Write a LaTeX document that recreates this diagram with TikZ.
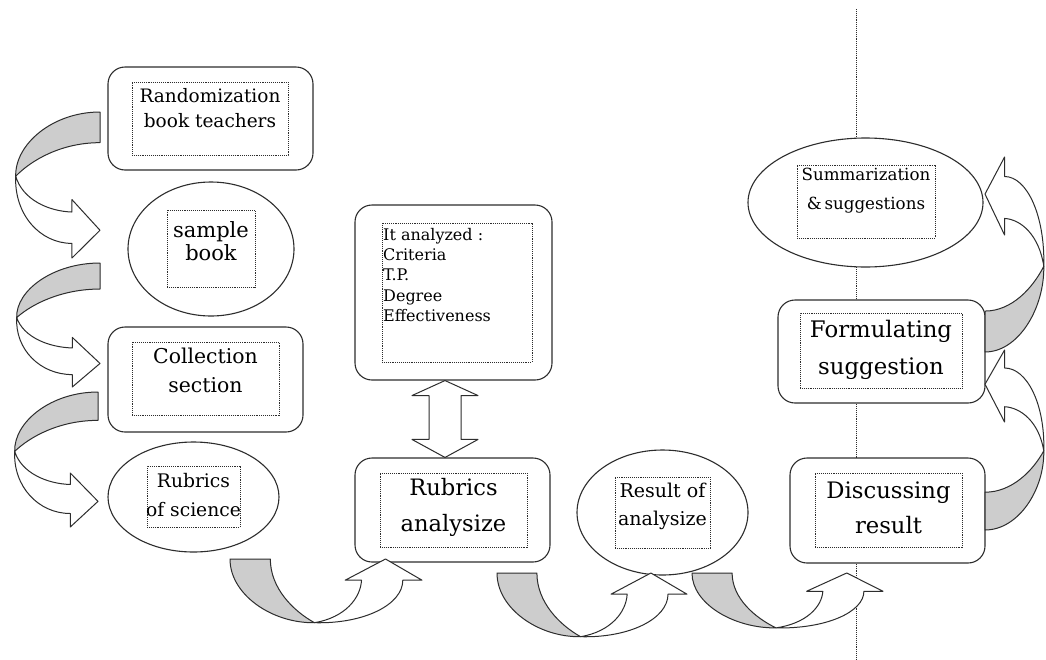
\documentclass[tikz,border=0pt]{standalone}
\usepackage{fontspec}
\setmainfont{DejaVu Serif}
\usetikzlibrary{calc,shapes.geometric}
\definecolor{lc}{RGB}{45,45,45}
\definecolor{bandgray}{RGB}{205,205,205}
\newcommand{\curvarr}[3]{%
 \begin{scope}[shift={#1}, x={#2}, y={#3}]
  \draw[arrback] (0,0) .. controls (0.55,0) and (0.99,0.22) .. (0.98,0.44)
     .. controls (0.8,0.33) and (0.45,0.21) .. (0,0.21) -- cycle;
  \draw[arrfront] (0.98,0.44) .. controls (1,0.7) and (0.7,0.9) .. (0.326,0.9)
     -- (0.326,1) -- (0,0.81) -- (0.326,0.6) -- (0.326,0.685)
     .. controls (0.6,0.68) and (0.9,0.6) .. (0.98,0.44) -- cycle;
 \end{scope}}
\begin{document}
\begin{tikzpicture}[x=1pt,y=-1pt,
  rbox/.style={draw=lc, line width=1.1pt, fill=white, rounded corners=17pt, inner sep=0pt},
  ebox/.style={draw=lc, line width=1.1pt, fill=white, ellipse, inner sep=0pt},
  dbox/.style={draw=lc, densely dotted, line width=0.9pt, inner sep=0pt},
  txt/.style={inner sep=0pt, align=center, text=black},
  arrback/.style={draw=lc, line width=1pt, fill=bandgray, line join=round},
  arrfront/.style={draw=lc, line width=1pt, fill=white, line join=round},
  vline/.style={draw=lc, densely dotted, line width=0.9pt}]
\useasboundingbox (0,0) rectangle (1046,659);
\fill[white] (0,0) rectangle (1046,659);
\coordinate (vtop) at (856,9);
\coordinate (vbot) at (856,659);
\draw[vline] (vtop) -- (vbot);

% Randomization
\node[rbox, minimum width=205pt, minimum height=103pt] (n1) at (210.5,118.5) {};
\node[dbox, minimum width=156pt, minimum height=73pt] (d1) at (210,118.5) {};
\node[txt, font=\fontsize{18.5}{25}\selectfont] (t1) at (210,108) {Randomization\\book teachers};

% sample book
\node[ebox, minimum width=166pt, minimum height=134pt] (n2) at (211,249) {};
\node[dbox, minimum width=88pt, minimum height=77pt] (d2) at (211,248.5) {};
\node[txt, font=\fontsize{21}{23.5}\selectfont] (t2) at (211,241) {sample\\book};

% Collection section
\node[rbox, minimum width=195pt, minimum height=105pt] (n3) at (205.5,379.5) {};
\node[dbox, minimum width=147pt, minimum height=73pt] (d3) at (205.5,378.5) {};
\node[txt, font=\fontsize{20.4}{29}\selectfont] (t3) at (205.5,370) {Collection\\section};

% Rubrics of science
\node[ebox, minimum width=171pt, minimum height=110pt] (n4) at (193.5,497) {};
\node[dbox, minimum width=93pt, minimum height=61pt] (d4) at (193.5,496.5) {};
\node[txt, font=\fontsize{18.7}{29}\selectfont] (t4) at (193.5,495) {Rubrics\\of science};

% It analyzed
\node[rbox, minimum width=197pt, minimum height=175pt] (n5) at (453.5,292.5) {};
\node[dbox, minimum width=150pt, minimum height=139pt] (d5) at (457,292.5) {};
\node[txt, align=left, anchor=north west, font=\fontsize{16}{20.3}\selectfont] (t5) at (383,228) {It analyzed :\\Criteria\\T.P.\\Degree\\Effectiveness};

% Rubrics analysize
\node[rbox, minimum width=195pt, minimum height=104pt] (n6) at (452.5,510) {};
\node[dbox, minimum width=147pt, minimum height=74pt] (d6) at (453.5,510) {};
\node[txt, font=\fontsize{22.6}{36}\selectfont] (t6) at (453.5,507) {Rubrics\\analysize};

% Result of analysize
\node[ebox, minimum width=171pt, minimum height=125pt] (n7) at (662.5,512.5) {};
\node[dbox, minimum width=95pt, minimum height=71pt] (d7) at (662.5,512.5) {};
\node[txt, font=\fontsize{19}{28}\selectfont] (t7) at (662.5,506) {Result of\\analysize};

% Discussing result
\node[rbox, minimum width=195pt, minimum height=105pt] (n8) at (887.5,510.5) {};
\node[dbox, minimum width=147pt, minimum height=74pt] (d8) at (888.5,510) {};
\node[txt, font=\fontsize{22.7}{35}\selectfont] (t8) at (888.5,507.5) {Discussing\\result};

% Formulating suggestion
\node[rbox, minimum width=207pt, minimum height=103pt] (n9) at (881.5,351.5) {};
\node[dbox, minimum width=162pt, minimum height=75pt] (d9) at (881,350.5) {};
\node[txt, font=\fontsize{22.8}{37}\selectfont] (t9) at (881,349.5) {Formulating\\suggestion};

% Summarization
\node[ebox, minimum width=235pt, minimum height=129pt] (n10) at (865.5,202.5) {};
\node[dbox, minimum width=138pt, minimum height=73pt] (d10) at (866,201.5) {};
\node[txt, font=\fontsize{16.7}{29}\selectfont] (t10) at (866,190.5) {Summarization\\\&\,suggestions};

% double arrow between n5 and n6
\coordinate (dx) at (445,0);
\coordinate (dtop) at (n5.south -| dx);
\coordinate (dbot) at (n6.north -| dx);
\draw[arrfront] (dtop) -- ($(dtop)+(33,15)$) -- ($(dtop)+(16,15)$) -- ($(dbot)+(16,-18)$)
  -- ($(dbot)+(33,-18)$) -- (dbot) -- ($(dbot)+(-33,-18)$) -- ($(dbot)+(-16,-18)$)
  -- ($(dtop)+(-16,15)$) -- ($(dtop)+(-33,15)$) -- cycle;

% curved block arrows
\curvarr{(100,112)}{(-86pt,0pt)}{(0pt,-146pt)}
\curvarr{(100,263)}{(-85pt,0pt)}{(0pt,-124pt)}
\curvarr{(98,392)}{(-85pt,0pt)}{(0pt,-135pt)}
\curvarr{(230,559)}{(0pt,-65pt)}{(192pt,0pt)}
\curvarr{(497,573)}{(0pt,-65pt)}{(190pt,0pt)}
\curvarr{(692,573)}{(0pt,-56pt)}{(191pt,0pt)}
\curvarr{(985,352)}{(60pt,0pt)}{(0pt,195pt)}
\curvarr{(985,530)}{(60pt,0pt)}{(0pt,180pt)}
\end{tikzpicture}
\end{document}
